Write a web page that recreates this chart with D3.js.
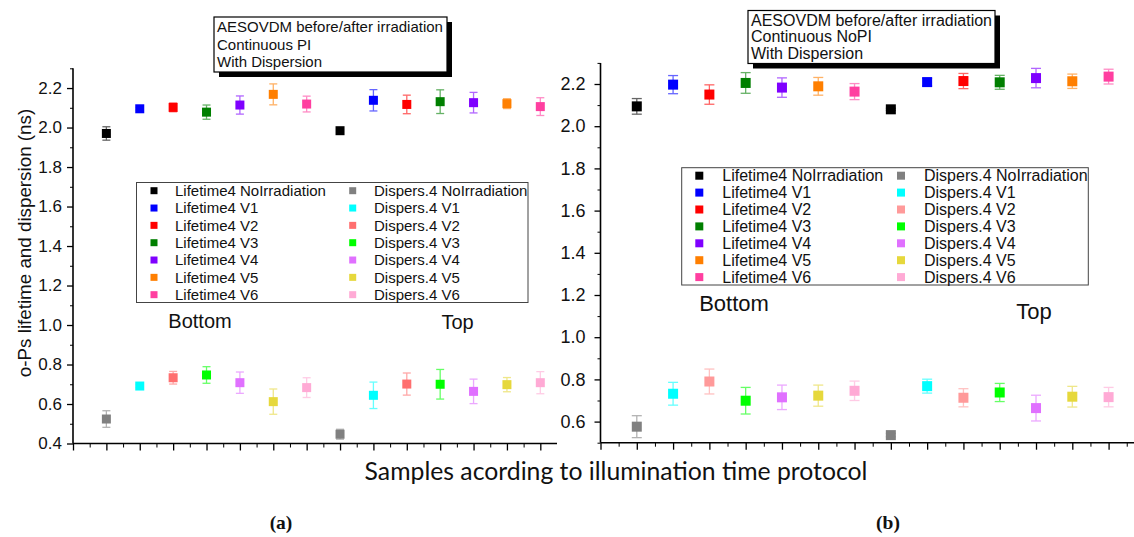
<!DOCTYPE html>
<html><head><meta charset="utf-8">
<script src="https://cdn.jsdelivr.net/npm/d3@7"></script>
<style>
body{margin:0;background:#fff}
svg text{font-family:"Liberation Sans",Arial,sans-serif;fill:#111}
</style>
</head><body><svg id="c" width="1134" height="537"></svg>
<script>
// ---------- data ----------
const samples = ["NoIrradiation","V1","V2","V3","V4","V5","V6"];
const groups = ["Bottom","Top"];
const positions = d3.range(1, 15); // 7 bottom + 7 top samples

const lifeA    = [1.970,2.095,2.102,2.078,2.114,2.168,2.119, 1.984,2.138,2.117,2.131,2.126,2.121,2.106];
const lifeAErr = [0.034,0.006,0.022,0.036,0.046,0.053,0.040, 0.005,0.054,0.047,0.060,0.052,0.025,0.045];
const dispA    = [0.524,0.691,0.733,0.747,0.708,0.612,0.683, 0.447,0.644,0.701,0.700,0.664,0.698,0.708];
const dispAErr = [0.042,0.008,0.032,0.042,0.054,0.064,0.050, 0.025,0.067,0.056,0.075,0.062,0.036,0.056];

const lifeB    = [2.094,2.197,2.150,2.205,2.183,2.189,2.164, 2.080,2.209,2.214,2.208,2.228,2.213,2.235];
const lifeBErr = [0.037,0.043,0.046,0.049,0.046,0.042,0.038, 0.005,0.018,0.036,0.033,0.046,0.034,0.035];
const dispB    = [0.576,0.732,0.790,0.699,0.715,0.723,0.746, 0.536,0.768,0.713,0.738,0.664,0.718,0.716];
const dispBErr = [0.052,0.054,0.059,0.063,0.058,0.050,0.046, 0.008,0.033,0.043,0.043,0.061,0.049,0.046];

const lifeColors = ["#000000","#0000ff","#ff0000","#007f00","#7f00ff","#ff7f00","#ff3fa0"];
const dispColorsA = ["#808080","#00ffff","#ff6f6f","#00ff00","#e070ff","#e6d83c","#ffaad5"];
const dispColorsB = ["#808080","#00ffff","#ff9a9a","#00ff00","#e070ff","#e6d83c","#ffaad5"];

const yTicksA = [0.4,0.6,0.8,1.0,1.2,1.4,1.6,1.8,2.0,2.2];
const yMinorA = [0.5,0.7,0.9,1.1,1.3,1.5,1.7,1.9,2.1,2.3];
const yTicksB = [0.6,0.8,1.0,1.2,1.4,1.6,1.8,2.0,2.2];
const yMinorB = [0.5,0.7,0.9,1.1,1.3,1.5,1.7,1.9,2.1,2.3];

const titleA = ["AESOVDM before/after irradiation","Continuous PI","With Dispersion"];
const titleB = ["AESOVDM before/after irradiation","Continuous NoPI","With Dispersion"];
const yLabel = "o-Ps lifetime and dispersion (ns)";
const xLabel = "Samples acording to illumination time protocol";
const panelLabels = ["(a)","(b)"];

// ---------- drawing ----------
const svg = d3.select("#c");
svg.append("rect").attr("width",1134).attr("height",537).attr("fill","#fff");

function panel(cfg){
  const g = svg.append("g");
  const x = d3.scaleLinear().domain([0, cfg.xMax]).range([cfg.x0, cfg.x1]);
  const y = d3.scaleLinear().domain([cfg.yMin, cfg.yMax]).range([cfg.yBot, cfg.yTop]);

  // title box with shadow
  const tb = cfg.title;
  g.append("rect").attr("x",tb.x+5).attr("y",tb.y+5).attr("width",tb.w).attr("height",tb.h).attr("fill","#000");
  g.append("rect").attr("x",tb.x).attr("y",tb.y).attr("width",tb.w).attr("height",tb.h).attr("fill","#fff").attr("stroke","#000").attr("stroke-width",1.2);
  tb.lines.forEach((t,i)=>{
    g.append("text").attr("x",tb.x+3).attr("y",tb.y+tb.first+i*tb.lh).attr("font-size",tb.fs).text(t);
  });

  // axes
  const yAxis = d3.axisLeft(y).tickValues(cfg.yTicks).tickFormat(d3.format(".1f")).tickSize(6).tickPadding(cfg.yPad);
  const yAx = g.append("g").attr("transform",`translate(${cfg.x0},0)`).call(yAxis);
  yAx.select(".domain").attr("stroke-width",1.6).attr("d",`M-0,${cfg.yBot}V${cfg.yTop}`);
  yAx.selectAll(".tick text").attr("font-size",cfg.tickFs).attr("fill","#222");
  yAx.selectAll(".tick line").attr("stroke-width",1.3);
  const yMin = g.append("g").attr("transform",`translate(${cfg.x0},0)`)
    .call(d3.axisLeft(y).tickValues(cfg.yMinor).tickSize(3).tickFormat(""));
  yMin.select(".domain").remove();

  const xMaj = d3.range(0, 15);
  const xMin = d3.range(0.5, cfg.xMax, 1);
  const xAx = g.append("g").attr("transform",`translate(0,${cfg.yBot})`)
    .call(d3.axisBottom(x).tickValues(xMaj).tickSize(7).tickFormat(""));
  xAx.select(".domain").attr("stroke-width",1.6).attr("d",`M${cfg.x0},0H${cfg.x1}`);
  xAx.selectAll(".tick line").attr("stroke-width",1.3);
  const xAm = g.append("g").attr("transform",`translate(0,${cfg.yBot})`)
    .call(d3.axisBottom(x).tickValues(xMin).tickSize(4).tickFormat(""));
  xAm.select(".domain").remove();
  g.selectAll(".domain").attr("stroke","#000");

  // series
  const series = [
    {vals:cfg.life, err:cfg.lifeErr, colors:lifeColors},
    {vals:cfg.disp, err:cfg.dispErr, colors:cfg.dispColors}
  ];
  const cw = cfg.cap/2, ms = cfg.ms;
  series.forEach(s=>{
    positions.forEach((p,i)=>{
      const c = s.colors[i % 7], v = s.vals[i], e = s.err[i];
      const px = x(p);
      const eg = g.append("g").attr("stroke",c).attr("stroke-width",1.3).attr("opacity",0.6);
      eg.append("line").attr("x1",px).attr("x2",px).attr("y1",y(v-e)).attr("y2",y(v+e));
      eg.append("line").attr("x1",px-cw).attr("x2",px+cw).attr("y1",y(v-e)).attr("y2",y(v-e));
      eg.append("line").attr("x1",px-cw).attr("x2",px+cw).attr("y1",y(v+e)).attr("y2",y(v+e));
      g.append("rect").attr("x",px-ms/2).attr("y",y(v)-ms/2).attr("width",ms).attr("height",ms).attr("fill",c);
    });
  });

  // legend
  const L = cfg.legend;
  g.append("rect").attr("x",L.x).attr("y",L.y).attr("width",L.w).attr("height",L.h)
    .attr("fill","#fff").attr("stroke","#444").attr("stroke-width",1);
  samples.forEach((s,i)=>{
    const yy = L.row0 + i*L.rh;
    [["Lifetime4 ",lifeColors,L.m1,L.t1],["Dispers.4 ",cfg.dispColors,L.m2,L.t2]].forEach(([pre,cols,mx,tx])=>{
      g.append("rect").attr("x",mx-L.ms/2).attr("y",yy-L.ms/2).attr("width",L.ms).attr("height",L.ms).attr("fill",cols[i]);
      g.append("text").attr("x",tx).attr("y",yy).attr("dy","0.36em").attr("font-size",L.fs).attr("fill","#222").text(pre+s);
    });
  });

  // group labels
  cfg.groupLabels.forEach((gl,i)=>{
    g.append("text").attr("x",gl.x).attr("y",gl.y).attr("dy","0.36em").attr("text-anchor","middle")
      .attr("font-size",gl.fs).text(groups[i]);
  });
}

panel({
  x0:73, x1:557, xMax:14.5, yMin:0.4, yMax:2.3, yBot:443.5, yTop:68.3,
  yTicks:yTicksA, yMinor:yMinorA, yPad:5, tickFs:17,
  life:lifeA, lifeErr:lifeAErr, disp:dispA, dispErr:dispAErr, dispColors:dispColorsA,
  ms:9, cap:8,
  title:{x:214, y:17, w:233, h:55, lines:titleA, fs:15, first:15, lh:17.5},
  legend:{x:136.5, y:182.5, w:391.5, h:120, row0:190.7, rh:17.33, m1:154, t1:175, m2:352.7, t2:374, ms:7, fs:15},
  groupLabels:[{x:200, y:321, fs:20},{x:457.5, y:322, fs:20}]
});

panel({
  x0:600.5, x1:1134, xMax:14.7, yMin:0.5, yMax:2.3, yBot:442.7, yTop:62.9,
  yTicks:yTicksB, yMinor:yMinorB, yPad:9, tickFs:18,
  life:lifeB, lifeErr:lifeBErr, disp:dispB, dispErr:dispBErr, dispColors:dispColorsB,
  ms:10, cap:10,
  title:{x:748, y:10.5, w:247, h:53, lines:titleB, fs:16, first:15, lh:16.5},
  legend:{x:681.7, y:167.7, w:406.6, h:117.3, row0:175.7, rh:16.9, m1:699.3, t1:722.3, m2:901, t2:924, ms:8, fs:16},
  groupLabels:[{x:734, y:303, fs:22},{x:1034, y:311, fs:22}]
});

// y label
svg.append("text").attr("transform","translate(24,243) rotate(-90)").attr("text-anchor","middle")
  .attr("dy","0.36em").attr("font-size",18.8).text(yLabel);

// x label fitted to width
const xl = svg.append("text").attr("x",616).attr("y",471).attr("dy","0.36em").attr("text-anchor","middle")
  .style("font-family","Lato, 'Open Sans', sans-serif").attr("font-size",24).text(xLabel);
const w = xl.node().getComputedTextLength();
xl.attr("font-size", 24*503/w);

// panel labels
[[281,"(a)"],[888,"(b)"]].forEach(([px,t],i)=>{
  svg.append("text").attr("x",px).attr("y",522).attr("dy","0.36em").attr("text-anchor","middle")
    .style("font-family","'Liberation Serif','Times New Roman',serif").attr("font-weight","bold").attr("font-size",19.5).text(panelLabels[i]);
});
</script>
</body></html>
